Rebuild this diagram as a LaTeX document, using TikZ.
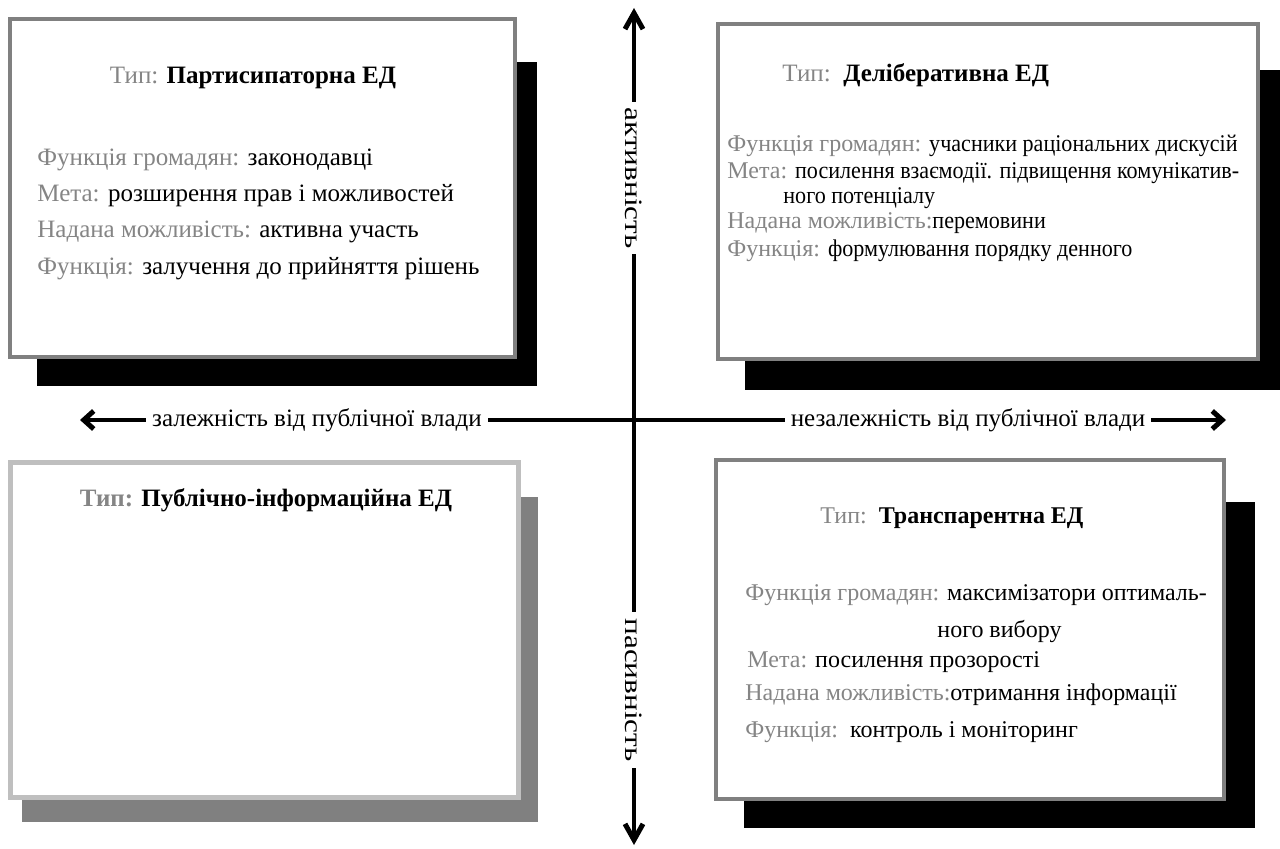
\documentclass[tikz,border=0pt]{standalone}
\usepackage{fontspec}
\setmainfont{Liberation Serif}
\newfontfamily\narrowserif[FakeStretch=0.92]{Liberation Serif}
\usetikzlibrary{positioning, arrows.meta}
\definecolor{labelgray}{gray}{0.52}
\definecolor{framegray}{gray}{0.5}
\definecolor{paleframe}{gray}{0.75}
\definecolor{shadegray}{gray}{0.5}
\newcommand{\lab}[1]{\textcolor{labelgray}{#1}}
\newcommand{\narrow}[1]{{\narrowserif #1}}
\tikzset{x=0.5pt, y=-0.5pt, % one unit is one pixel of the drawing, y runs downwards
edbox/.style={ % the four type boxes
  draw=framegray, line width=2pt, fill=white,
  anchor=north west, inner sep=0pt},
boxtitle/.style={inner sep=0pt, font=\fontsize{12.5}{15}\selectfont},
row/.style={ % one line of text in a box
  anchor=base west, inner sep=0pt,
  font=\fontsize{12.5}{14}\selectfont},
smallrow/.style={row, font=\fontsize{12}{14}\selectfont},
axisline/.style={line width=2pt,
  {Straight Barb[length=5pt,width=9pt,line width=2.5pt]}-{Straight Barb[length=5pt,width=9pt,line width=2.5pt]}},
axislabel/.style={fill=white, inner sep=3pt,
  font=\fontsize{12.5}{14}\selectfont}}
\begin{document}
\begin{tikzpicture}
    \useasboundingbox (0,0) rectangle (1280,849);

    % shadows
    \fill (37,62) rectangle (537,386);
    \fill (745,70) rectangle (1280,390);
    \fill[shadegray] (22,497) rectangle (538,822);
    \fill (744,502) rectangle (1255,828);

    % boxes
    \node[edbox, minimum width=252.5pt, minimum height=169pt] (partic) at (8,17) {};
    \node[edbox, minimum width=270pt, minimum height=167.5pt] (delib) at (716,22) {};
    \node[edbox, draw=paleframe, line width=2.5pt, minimum width=254pt, minimum height=167.5pt] (pubinfo) at (8,460) {};
    \node[edbox, minimum width=254pt, minimum height=169.5pt] (transp) at (714,458) {};

    \node[boxtitle] (partic-t) at (253,78) {\lab{Тип:} \textbf{Партисипаторна ЕД}};
    \node[boxtitle, anchor=west] (delib-t) at (782,75) {\lab{Тип:}\ \ \textbf{Деліберативна ЕД}};
    \node[boxtitle] (pubinfo-t) at (266,500) {\textbf{\lab{Тип:} Публічно-інформаційна ЕД}};
    \node[boxtitle, anchor=west, font=\fontsize{12}{15}\selectfont] (transp-t) at (820,518) {\lab{Тип:}\ \ \textbf{Транспарентна ЕД}};

    \node[row] (partic-1) at (37,166) {\lab{Функція громадян:} законодавці};
    \node[row] (partic-2) at (37,202) {\lab{Мета:} розширення прав і можливостей};
    \node[row] (partic-3) at (37,238) {\lab{Надана можливість:} активна участь};
    \node[row] (partic-4) at (37,275) {\lab{Функція:} залучення до прийняття рішень};

    \node[smallrow] (delib-1) at (727,152) {\lab{Функція громадян:} \narrow{учасники раціональних дискусій}};
    \node[smallrow] (delib-2) at (727,179) {\lab{Мета:} \narrow{посилення взаємодії. підвищення комунікатив-}};
    \node[smallrow] (delib-3) at (783,204) {\narrow{ного потенціалу}};
    \node[smallrow] (delib-4) at (727,229) {\lab{Надана можливість:}\narrow{перемовини}};
    \node[smallrow] (delib-5) at (727,257) {\lab{Функція:} \narrow{формулювання порядку денного}};

    \node[smallrow] (transp-1) at (745,601) {\lab{Функція громадян:} максимізатори оптималь-};
    \node[smallrow] (transp-2) at (937,638) {ного вибору};
    \node[smallrow] (transp-3) at (747,668) {\lab{Мета:} посилення прозорості};
    \node[smallrow] (transp-4) at (745,701) {\lab{Надана можливість:}отримання інформації};
    \node[smallrow] (transp-5) at (745,738) {\lab{Функція:}\ \ контроль і моніторинг};

    % axes
    \coordinate (dep-end) at (80,420);
    \coordinate (indep-end) at (1226,420);
    \coordinate (act-end) at (634,8);
    \coordinate (pass-end) at (634,845);
    \draw[axisline] (dep-end) -- (indep-end);
    \draw[axisline, {Straight Barb[length=8pt,width=9pt,line width=2.5pt]}-{Straight Barb[length=8pt,width=9pt,line width=2.5pt]}] (pass-end) -- (act-end);
    \node[axislabel, rotate=-90] (active) at (634,178) {\scalebox{1.25}[1]{активність}};
    \node[axislabel, rotate=-90] (passive) at (634,690) {\scalebox{1.25}[1]{пасивність}};
    \node[axislabel] (depend) at (317,420) {залежність від публічної влади};
    \node[axislabel] (independ) at (968,420) {незалежність від публічної влади};

\end{tikzpicture}
\end{document}
